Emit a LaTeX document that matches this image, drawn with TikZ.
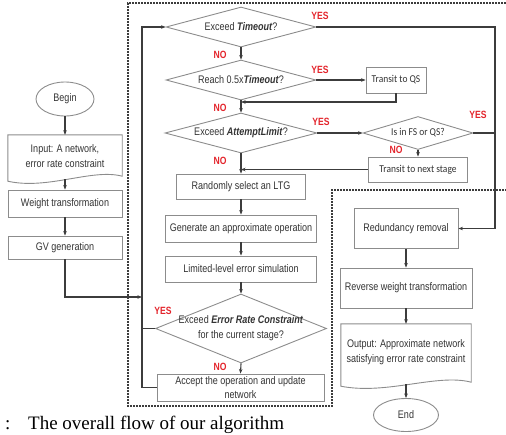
\documentclass[tikz,border=0pt]{standalone}
\usepackage{fontspec}
\setmainfont{Liberation Sans}[FakeStretch=0.82]
\newfontfamily\calib{Carlito}[FakeStretch=0.9]
\newfontfamily\capserif{Liberation Serif}
\usetikzlibrary{shapes.geometric,arrows.meta,calc}
\definecolor{txtc}{HTML}{333333}
\definecolor{bord}{HTML}{8C8C8C}
\definecolor{linec}{HTML}{3C3C3C}
\definecolor{yesred}{HTML}{E3242B}
\begin{document}
\begin{tikzpicture}[x=1pt,y=-1pt,
  box/.style={draw=bord,line width=0.9pt,fill=white,text=txtc,font=\fontsize{11}{12.5}\selectfont,inner sep=0pt,align=center},
  ghost/.style={text=txtc,font=\fontsize{11}{15}\selectfont,inner sep=0pt,align=center},
  dia/.style={diamond,draw=bord,line width=0.9pt,inner sep=0pt},
  dtext/.style={text=txtc,font=\fontsize{11}{15}\selectfont,align=center,inner sep=0pt},
  ctext/.style={text=txtc,font=\calib\fontsize{10.5}{12}\selectfont,align=center,inner sep=0pt},
  term/.style={ellipse,draw=bord,line width=0.9pt,text=txtc,font=\fontsize{11}{12.5}\selectfont,inner sep=0pt},
  cbox/.style={box,font=\calib\fontsize{10.5}{12}\selectfont},
  lab/.style={text=yesred,font=\fontsize{10.5}{12}\selectfont\bfseries,inner sep=0pt},
  conn/.style={draw=linec,line width=1.1pt},
  arr/.style={conn,-{Stealth[length=4.5pt,width=3.5pt]}},
  dashbox/.style={draw=linec,line width=1.2pt,dash pattern=on 2pt off 1pt},
  wave/.style={draw=bord,line width=0.9pt},
]
\useasboundingbox (0,0) rectangle (506,434);
\clip (0,0) rectangle (506,434);

% ---------- left column ----------
\node[term,minimum width=58pt,minimum height=34pt] (begin) at (65,99) {Begin};
\node[ghost,minimum width=114pt,minimum height=42pt] (inp) at (65,156) {Input: A network,\\error rate constraint};
\draw[wave] (inp.north west) -- (inp.north east) -- ($(inp.south east)+(0,-1)$)
  .. controls ($(inp.south east)+(-30,-9)$) and ($(inp.south west)+(40,13)$) .. ($(inp.south west)+(0,4)$) -- cycle;
\node[box,minimum width=114pt,minimum height=27pt] (wt) at (65,203.5) {Weight transformation};
\node[box,minimum width=114pt,minimum height=23pt] (gv) at (65,247.5) {GV generation};

% ---------- dashed frames ----------
\draw[dashbox] (506,3) -- (128,3) -- (128,406) -- (332,406) -- (332,190) -- (506,190);

% ---------- main loop ----------
\node[dia,minimum width=150pt,minimum height=40pt] (d1) at (241,27) {};
\node[dtext] (d1t) at (d1) {Exceed \textbf{\textit{Timeout}}?};
\node[dia,minimum width=150pt,minimum height=40pt] (d2) at (241,80) {};
\node[dtext] (d2t) at (d2) {Reach 0.5x\textbf{\textit{Timeout}}?};
\node[dia,minimum width=152pt,minimum height=40pt] (d3) at (241,133) {};
\node[dtext] (d3t) at (d3) {Exceed \textbf{\textit{AttemptLimit}}?};

\node[cbox,minimum width=60pt,minimum height=26pt] (qs) at (396,80) {Transit to QS};
\node[dia,minimum width=110pt,minimum height=33pt] (isfs) at (418,133) {};
\node[ctext] (isfst) at (isfs) {Is in FS or QS?};
\node[cbox,minimum width=99pt,minimum height=25pt] (nxt) at (418,169.5) {Transit to next stage};

\node[box,minimum width=129pt,minimum height=25pt] (rand) at (241,186.5) {Randomly select an LTG};
\node[box,minimum width=151pt,minimum height=27pt] (gen) at (241,228.5) {Generate an approximate operation};
\node[box,minimum width=151pt,minimum height=26pt] (lim) at (241,269) {Limited-level error simulation};
\node[dia,minimum width=171pt,minimum height=69pt] (er) at (241,328.5) {};
\node[dtext] (ert) at (er) {Exceed \textbf{\textit{Error Rate Constraint}}\\for the current stage?};
\node[box,minimum width=167pt,minimum height=27pt,font=\fontsize{11}{14}\selectfont] (acc) at (240.5,387.5) {Accept the operation and update\\network};

% ---------- right column ----------
\node[box,minimum width=104pt,minimum height=40pt] (red) at (406,228.5) {Redundancy removal};
\node[box,minimum width=132pt,minimum height=40pt] (rev) at (406,288) {Reverse weight transformation};
\node[ghost,minimum width=130pt,minimum height=57pt] (out) at (406,352.5) {Output: Approximate network\\satisfying error rate constraint};
\draw[wave] (out.north west) -- (out.north east) -- ($(out.south east)+(0,1)$)
  .. controls ($(out.south east)+(-34,-8)$) and ($(out.south west)+(46,14)$) .. ($(out.south west)+(0,5)$) -- cycle;
\node[term,minimum width=65pt,minimum height=33pt] (endn) at (406,415) {End};

% ---------- helper coordinates ----------
\coordinate (jg) at (142,297);
\coordinate (rx) at (495,27);
\coordinate (j2) at (241,102);

% ---------- connectors ----------
\draw[arr] (begin.south) -- (inp.north);
\draw[arr] ($(inp.south)+(0,2)$) -- (wt.north);
\draw[arr] (wt.south) -- (gv.north);
\draw[arr] (gv.south) |- (jg);
\draw[arr] (acc.west) -- (acc.west -| jg) |- (d1.west);
\draw[conn] (er.west) -- (er.west -| jg);

\draw[arr] (d1.south) -- (d2.north);
\draw[arr] (d1.east) -- (rx) |- (red.east);
\draw[arr] (d2.east) -- (qs.west);
\draw[arr] (qs.south) |- (j2);
\draw[arr] (d2.south) -- (d3.north);
\draw[arr] (d3.east) -- (isfs.west);
\draw[conn] (isfs.east) -- (isfs.east -| rx);
\draw[arr] (isfs.south) -- (nxt.north);
\draw[arr] (nxt.west) -- (nxt.west -| d3.south);
\draw[arr] (d3.south) -- (rand.north);
\draw[arr] (rand.south) -- (gen.north);
\draw[arr] (gen.south) -- (lim.north);
\draw[arr] (lim.south) -- (er.north);
\draw[arr] (er.south) -- (acc.north);

\draw[arr] (red.south) -- (rev.north);
\draw[arr] (rev.south) -- (out.north);
\draw[arr] ($(out.south)+(0,3)$) -- (endn.north);

% ---------- labels ----------
\node[lab] (y1) at (320,16) {YES};
\node[lab] (n1) at (220,55) {NO};
\node[lab] (y2) at (320,70) {YES};
\node[lab] (n2) at (220,108) {NO};
\node[lab] (y3) at (321,122) {YES};
\node[lab] (n3) at (220,161) {NO};
\node[lab] (y4) at (478,115) {YES};
\node[lab] (n4) at (396,150) {NO};
\node[lab] (y5) at (163,311) {YES};
\node[lab] (n5) at (220,367) {NO};

% ---------- caption ----------
\node[anchor=base west,inner sep=0pt,font=\capserif\fontsize{19}{22}\selectfont] (cap0) at (5,429.5) {:};
\node[anchor=base west,inner sep=0pt,font=\capserif\fontsize{19}{22}\selectfont] (cap) at (28,429.5) {The overall flow of our algorithm};
\end{tikzpicture}
\end{document}
